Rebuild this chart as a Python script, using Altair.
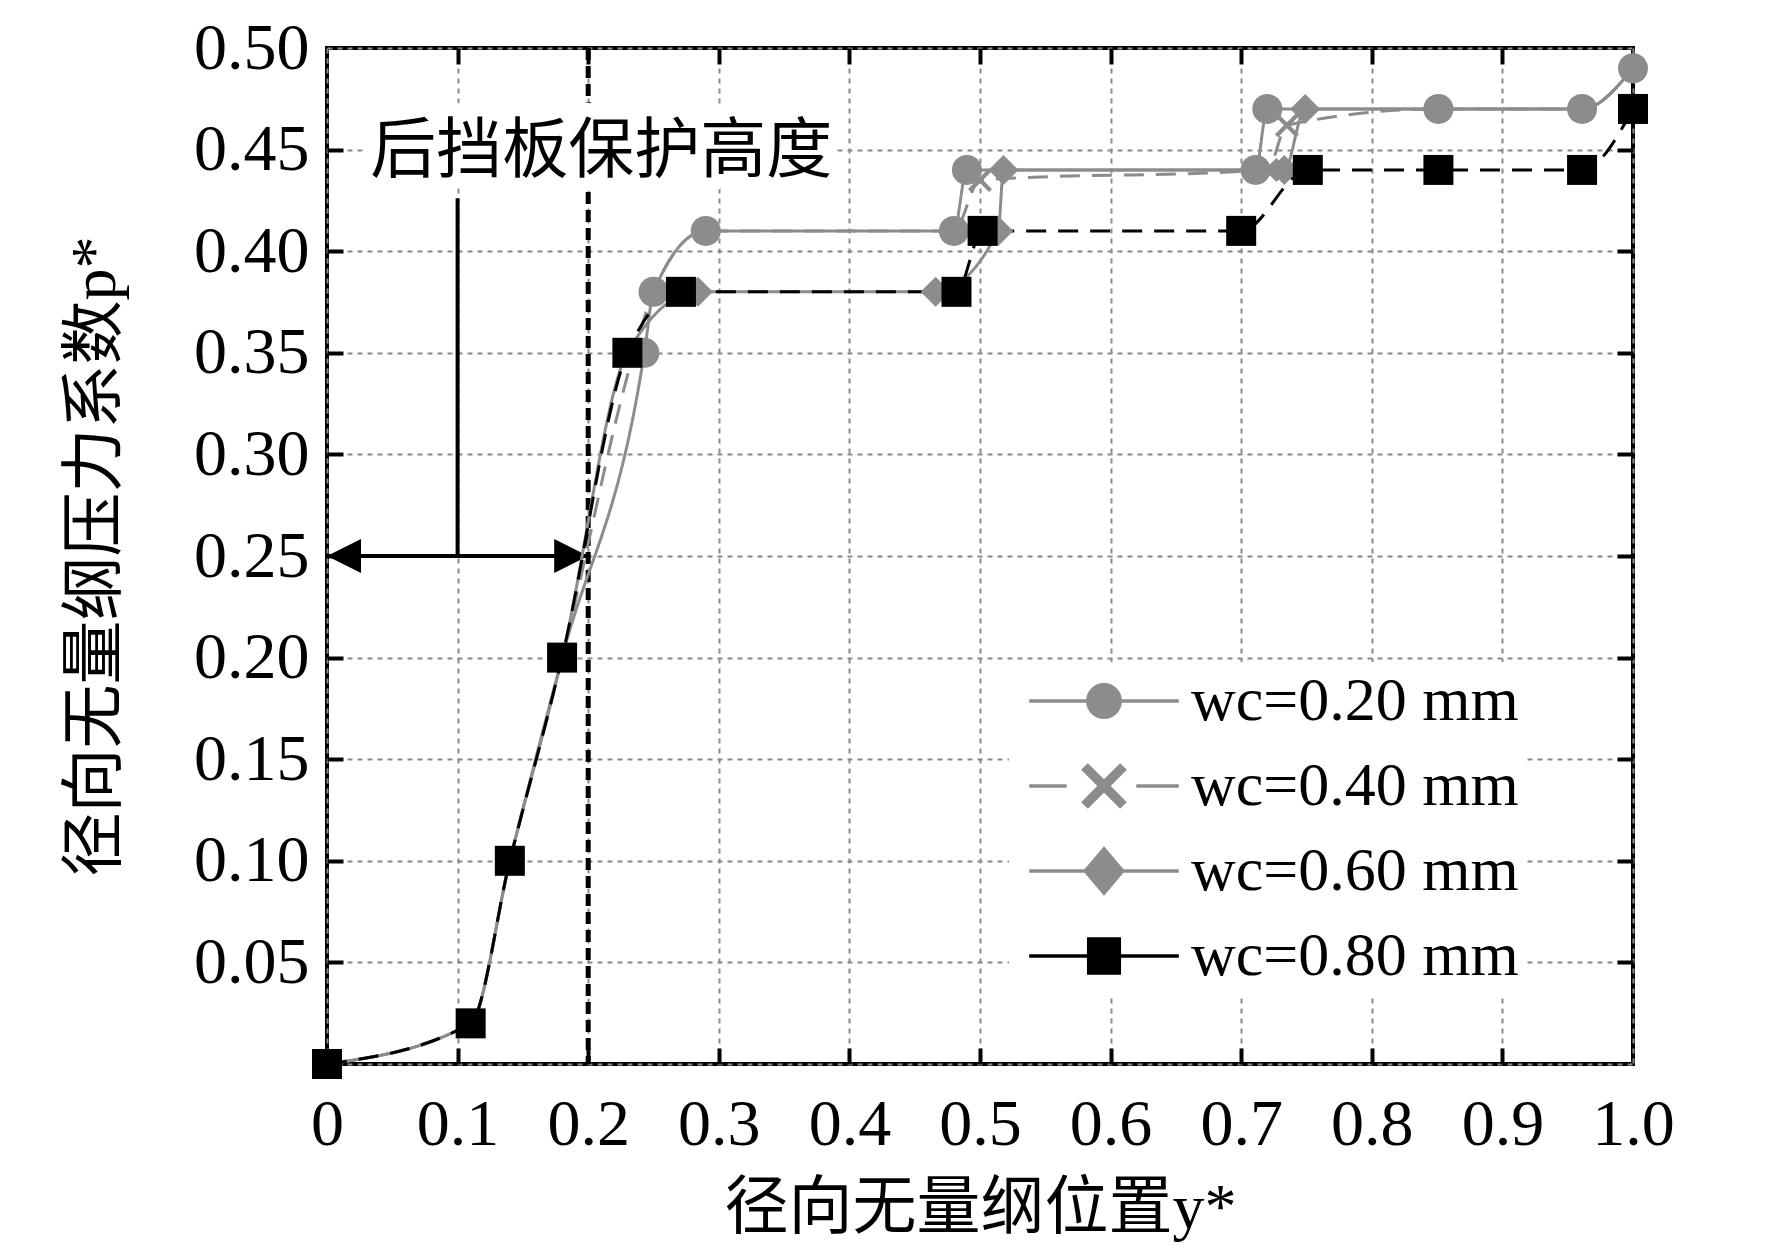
import altair as alt
import pandas as pd

# ---------------- data ----------------
SERIES = ["wc=0.20 mm", "wc=0.40 mm", "wc=0.60 mm", "wc=0.80 mm"]
SERIES_COLORS = ["#8c8c8c", "#8c8c8c", "#8c8c8c", "#000000"]

X_020 = [0.0, 0.11, 0.14, 0.18, 0.243, 0.25, 0.29, 0.48, 0.49, 0.711, 0.72, 0.851, 0.961, 1.0]
P_020 = [0.0, 0.02, 0.10, 0.20, 0.35, 0.38, 0.41, 0.41, 0.44, 0.44, 0.47, 0.47, 0.47, 0.49]
X_040 = [0.0, 0.11, 0.14, 0.18, 0.235, 0.25, 0.29, 0.48, 0.50, 0.72, 0.735, 0.851, 0.961, 1.0]
P_040 = [0.0, 0.02, 0.10, 0.20, 0.35, 0.38, 0.41, 0.41, 0.435, 0.44, 0.462, 0.47, 0.47, 0.49]
X_060 = [0.0, 0.11, 0.14, 0.18, 0.23, 0.284, 0.466, 0.514, 0.518, 0.733, 0.749, 0.851, 0.961, 1.0]
P_060 = [0.0, 0.02, 0.10, 0.20, 0.35, 0.38, 0.38, 0.41, 0.44, 0.44, 0.47, 0.47, 0.47, 0.49]
X_080 = [0.0, 0.11, 0.14, 0.18, 0.23, 0.271, 0.482, 0.502, 0.70, 0.751, 0.851, 0.961, 1.0]
P_080 = [0.0, 0.02, 0.10, 0.20, 0.35, 0.38, 0.38, 0.41, 0.41, 0.44, 0.44, 0.44, 0.47]

X_TICKS = [0.0, 0.1, 0.2, 0.3, 0.4, 0.5, 0.6, 0.7, 0.8, 0.9, 1.0]
Y_TICKS = [0.0, 0.05, 0.10, 0.15, 0.20, 0.25, 0.30, 0.35, 0.40, 0.45, 0.50]

X_TITLE = "径向无量纲位置y*"
Y_TITLE = "径向无量纲压力系数p*"

ANNOT_TEXT = ["后挡板保护高度"]
ANNOT_X = [0.21]
ANNOT_Y = [0.449]
GUARD_X = [0.2]            # baffle protection height
MARK_X = [0.1]             # vertical leader line
MARK_Y0 = [0.25]
MARK_Y1 = [0.426]
ARROW_X0 = [0.0]
ARROW_X1 = [0.2]
ARROW_Y = [0.25]

# ---------------- tables ----------------
series_data = {
    SERIES[0]: (X_020, P_020),
    SERIES[1]: (X_040, P_040),
    SERIES[2]: (X_060, P_060),
    SERIES[3]: (X_080, P_080),
}
rows = []
for s in SERIES:
    xs, ps = series_data[s]
    for xv, pv in zip(xs, ps):
        rows.append({"series": s, "y": xv, "p": pv})
lines_df = pd.DataFrame(rows)

draw_order = [SERIES[1], SERIES[2], SERIES[0], SERIES[3]]
prow = []
for s in draw_order:
    xs, ps = series_data[s]
    for xv, pv in zip(xs, ps):
        prow.append({"series": s, "y": xv, "p": pv})
points_df = pd.DataFrame(prow)

SERIF = "'Liberation Serif', 'Noto Sans CJK SC'"
W, H = 1306, 1016

xs_ = alt.Scale(domain=[0, 1], nice=False, zero=False)
ys_ = alt.Scale(domain=[0, 0.5], nice=False, zero=False)
color_scale = alt.Scale(domain=SERIES, range=SERIES_COLORS)

GRID = dict(grid=True, gridColor="#8a8a8a", gridDash=[5, 5], gridWidth=2)

x_main = alt.Axis(orient="bottom", values=X_TICKS, ticks=False, tickSize=0, domain=False,
                  labelExpr="datum.value === 0 ? '0' : format(datum.value, '.1f')",
                  labelFont=SERIF, labelFontSize=66, labelColor="black", labelPadding=28,
                  labelFlush=False, labelOverlap=False, labelBound=False,
                  title=X_TITLE, titleFont=SERIF, titleFontSize=64, titleFontWeight="normal",
                  titleColor="black", titleY=144, titleBaseline="middle", **GRID)
y_main = alt.Axis(orient="left", values=Y_TICKS, ticks=False, tickSize=0, domain=False,
                  labelExpr="datum.value === 0 ? '' : format(datum.value, '.2f')",
                  labelFont=SERIF, labelFontSize=66, labelColor="black", labelPadding=18,
                  labelOverlap=False, labelBound=False,
                  title=Y_TITLE, titleFont=SERIF, titleFontSize=64, titleFontWeight="normal",
                  titleColor="black", titleX=-232, titleBaseline="middle", titleAngle=270,
                  **GRID)

def inward(orient, vals):
    return alt.Axis(orient=orient, values=vals, offset=-16, tickSize=16, tickWidth=4,
                    tickColor="black", labels=False, domain=False, grid=False, title=None)

x_in_bottom = inward("bottom", X_TICKS[1:-1])
x_in_top = inward("top", X_TICKS[1:-1])
y_in_left = inward("left", Y_TICKS[1:-1])
y_in_right = inward("right", Y_TICKS[1:-1])

# guard line at baffle height
guard = alt.Chart(pd.DataFrame({"gx": GUARD_X})).mark_rule(
    color="black", strokeWidth=5, strokeDash=[12, 6]
).encode(x=alt.X("gx:Q", scale=xs_, axis=None))

annot_df = pd.DataFrame({"t": ANNOT_TEXT, "ax": ANNOT_X, "ay": ANNOT_Y})
halo = alt.Chart(annot_df).mark_text(
    font=SERIF, fontSize=66, fill="white", stroke="white", strokeWidth=28,
    strokeJoin="round", baseline="middle", align="center"
).encode(x=alt.X("ax:Q", scale=xs_, axis=None), y=alt.Y("ay:Q", scale=ys_, axis=None), text="t:N")
annot = alt.Chart(annot_df).mark_text(
    font=SERIF, fontSize=66, color="black", baseline="middle", align="center"
).encode(x=alt.X("ax:Q", scale=xs_, axis=None), y=alt.Y("ay:Q", scale=ys_, axis=None), text="t:N")

leader = alt.Chart(pd.DataFrame({"mx": MARK_X, "y0": MARK_Y0, "y1": MARK_Y1})).mark_rule(
    color="black", strokeWidth=4
).encode(x=alt.X("mx:Q", scale=xs_, axis=x_in_top),
         y=alt.Y("y0:Q", scale=ys_, axis=y_in_right), y2="y1:Q")

arrow_df = pd.DataFrame({"x0": ARROW_X0, "x1": ARROW_X1, "ay": ARROW_Y})
arrow = alt.Chart(arrow_df).mark_rule(color="black", strokeWidth=4).encode(
    x=alt.X("x0:Q", scale=xs_, axis=None), x2="x1:Q", y=alt.Y("ay:Q", scale=ys_, axis=None))
head_l = alt.Chart(arrow_df).mark_point(
    shape="M0,0L2,-1L2,1Z", filled=True, color="black", opacity=1, size=1156
).encode(x=alt.X("x0:Q", scale=xs_, axis=None), y=alt.Y("ay:Q", scale=ys_, axis=None))
head_r = alt.Chart(arrow_df).mark_point(
    shape="M0,0L-2,-1L-2,1Z", filled=True, color="black", opacity=1, size=1156
).encode(x=alt.X("x1:Q", scale=xs_, axis=None), y=alt.Y("ay:Q", scale=ys_, axis=None))

lines = alt.Chart(lines_df).mark_line(interpolate="monotone", strokeWidth=3).encode(
    x=alt.X("y:Q", scale=xs_, axis=x_main),
    y=alt.Y("p:Q", scale=ys_, axis=y_main),
    color=alt.Color("series:N", scale=color_scale, legend=None),
    strokeDash=alt.StrokeDash("series:N", scale=alt.Scale(domain=SERIES,
                              range=[[1, 0], [20, 12], [1, 0], [20, 12]]), legend=None),
    detail="series:N",
)

X_PATH = ("M-0.8,-0.6L-0.6,-0.8L0,-0.2L0.6,-0.8L0.8,-0.6L0.2,0L0.8,0.6L0.6,0.8L0,0.2"
          "L-0.6,0.8L-0.8,0.6L-0.2,0Z")
points = alt.Chart(points_df).transform_filter(
    f"datum.series === '{SERIES[3]}' || datum.y > 0.2"
).mark_point(filled=True, opacity=1, size=900).encode(
    x=alt.X("y:Q", scale=xs_, axis=x_in_bottom),
    y=alt.Y("p:Q", scale=ys_, axis=y_in_left),
    color=alt.Color("series:N", scale=color_scale, legend=None),
    shape=alt.Shape("series:N", scale=alt.Scale(domain=SERIES,
                    range=["circle", X_PATH, "diamond", "square"]), legend=None),
    order=alt.Order("ord:Q"),
).transform_window(ord="row_number()")

LEG_SHAPES = [
    "M-4.4,0H4.4M-0.95,0A0.95,0.95,0,1,0,0.95,0A0.95,0.95,0,1,0,-0.95,0Z",
    "M-4.4,0H-2.2M1.9,0H4.4M-1.2,-0.95L-0.95,-1.2L0,-0.25L0.95,-1.2L1.2,-0.95L0.25,0"
    "L1.2,0.95L0.95,1.2L0,0.25L-0.95,1.2L-1.2,0.95L-0.25,0Z",
    "M-4.4,0H4.4M0,-1.3L1.1,0L0,1.3L-1.1,0Z",
    "M-4.4,0H4.4M-0.9,-1H0.9V1H-0.9Z",
]
leg = alt.Legend(orient="none", legendX=682, legendY=614, title=None, fillColor="white",
                 padding=8, symbolSize=1156, symbolStrokeWidth=3.5, symbolOffset=56,
                 labelOffset=56, rowPadding=23, labelFont=SERIF, labelFontSize=62,
                 labelColor="black", labelLimit=600)
legend_layer = alt.Chart(points_df).transform_filter("false").mark_point(
    filled=True, opacity=1, strokeWidth=3.5
).encode(
    fill=alt.Fill("series:N", scale=alt.Scale(domain=SERIES, range=SERIES_COLORS), legend=leg),
    stroke=alt.Stroke("series:N", scale=alt.Scale(domain=SERIES, range=SERIES_COLORS), legend=leg),
    shape=alt.Shape("series:N", scale=alt.Scale(domain=SERIES, range=LEG_SHAPES), legend=leg),
)

chart = alt.layer(
    guard, halo, annot, leader, arrow, head_l, head_r, lines, points, legend_layer
).resolve_scale(
    shape="independent", fill="independent", stroke="independent"
).resolve_axis(
    x="independent", y="independent"
).properties(
    width=W, height=H,
    autosize=alt.AutoSizeParams(type="none"),
    padding={"left": 319, "top": 40, "right": 131, "bottom": 187},
    background="white",
).configure_view(stroke="black", strokeWidth=4)

chart.save("out.html", embed_options={"renderer": "svg", "actions": False})
